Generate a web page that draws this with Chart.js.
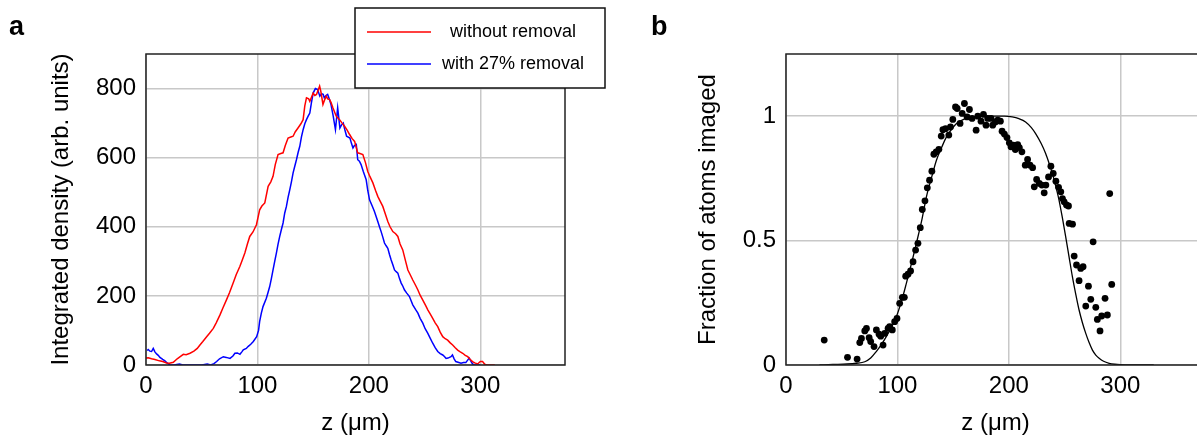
<!DOCTYPE html>
<html>
<head>
<meta charset="utf-8">
<script src="https://cdn.jsdelivr.net/npm/chart.js@4.4.1/dist/chart.umd.min.js"></script>
<style>
  html, body { margin: 0; padding: 0; background: #fff; overflow: hidden; }
  body { width: 1197px; height: 438px; position: relative; }
  canvas { position: absolute; top: 0; }
  #densityChart { left: 0; }
  #fractionChart { left: 640px; }
</style>
</head>
<body>
<canvas id="densityChart" width="640" height="438"></canvas>
<canvas id="fractionChart" width="640" height="438"></canvas>
<script>
// Panel a: integrated density profiles along z
const Z_RED = [0, 2, 5, 8, 12, 15, 18.5, 21, 24.5, 28, 31, 33.5, 36, 39.5, 43, 46, 48.4, 51, 54.4, 57,
  60.4, 63, 66.4, 69, 72.4, 75, 78.2, 81, 84.2, 86, 88.7, 91, 93.1, 96, 99.1, 102, 104, 106.6, 109.6, 112,
  114, 116, 118.5, 121, 123, 125, 127.5, 130, 132, 134, 136.4, 139, 141, 142.5, 144, 146, 147, 148.5, 150, 151.5,
  153, 155.8, 157, 158.8, 160, 161.8, 163, 164.8, 166, 167.8, 170.7, 173.7, 176, 178.2, 180.5, 182.7, 185, 187.2, 190, 192,
  194.6, 197, 199, 201, 203.6, 206, 208, 210, 212.5, 215, 217, 219, 221.5, 224, 226, 228, 230.4, 233, 235, 237,
  239.4, 242, 244, 246, 248.4, 251, 253, 255, 257.3, 259.5, 261.8, 264, 266.3, 268.5, 270.7, 273, 275.2, 277.5, 279.7, 282,
  284.2, 286.5, 288.7, 291, 293, 295, 297.6, 300, 302, 304, 306, 313];
const DENS_RED = [20, 21, 18, 16, 12, 10, 6, 5, 8, 18, 25, 31, 30, 34, 40, 48, 58, 68, 82, 92,
  106, 122, 145, 165, 190, 210, 237, 262, 285, 300, 324, 350, 372, 385, 406, 449, 460, 469, 517, 530,
  546, 580, 609, 612, 614, 635, 657, 660, 662, 675, 686, 698, 710, 750, 773, 770, 763, 775, 787, 780,
  783, 807, 790, 754, 765, 778, 770, 768, 760, 744, 720, 710, 700, 691, 680, 667, 655, 647, 614, 612,
  609, 585, 560, 545, 527, 505, 488, 475, 459, 435, 415, 400, 386, 380, 372, 350, 333, 300, 275, 262,
  246, 230, 217, 202, 188, 172, 159, 148, 135, 122, 111, 95, 82, 76, 72, 64, 58, 50, 43, 38,
  34, 28, 24, 16, 10, 6, 3, 10, 10, 2, 0, 0];

const Z_BLUE = [1, 2, 3.5, 5, 6.5, 8, 9.5, 11, 12.5, 15, 17, 19, 21.5, 25, 30, 33, 40, 50, 55, 58,
  61, 63.4, 66, 69.4, 72, 75.4, 78, 79.8, 82, 84.3, 86, 87.3, 90, 91.8, 94, 96.3, 99.3, 101, 102, 103.5,
  105, 108, 109.5, 111, 112.5, 114, 115.5, 117, 118.5, 120, 121.5, 123, 124.5, 126, 127.5, 129, 130.5, 132, 133.5, 135,
  136.5, 138, 139.5, 141, 142.5, 144, 145.5, 147, 148.5, 150, 152, 154, 156, 157.5, 159, 160, 161.5, 163, 164.5, 166,
  168, 170, 172, 174, 175.5, 177, 178.5, 180, 183, 184.5, 185.7, 187, 188.7, 190, 191.5, 193, 195, 197.6, 199, 200.6,
  203, 205, 206.5, 208, 209.5, 211, 212.5, 214, 215.5, 217, 218.5, 220, 221.5, 223, 224.5, 226, 227.5, 229, 230.5, 232,
  234, 236.4, 238, 239.4, 242, 244, 246, 248.4, 250.5, 252.8, 255, 257.3, 259.5, 261.8, 264, 266.3, 268, 269.3, 271, 273.7,
  275, 276.5, 278, 280, 282.7, 285, 287, 290, 291, 293, 294.6, 300];
const DENS_BLUE = [42, 45, 40, 39, 48, 38, 32, 28, 22, 16, 12, 6, 0, 0, 3, 0, 0, 0, 3, 0,
  4, 10, 18, 24, 22, 19, 26, 34, 35, 31, 38, 44, 48, 54, 60, 68, 82, 100, 126, 150,
  169, 193, 210, 227, 250, 275, 300, 324, 350, 372, 392, 411, 440, 459, 485, 507, 530, 556, 575, 594,
  615, 633, 660, 681, 698, 710, 720, 729, 760, 787, 800, 797, 778, 785, 783, 773, 780, 783, 770, 754,
  720, 681, 744, 686, 695, 700, 680, 662, 657, 640, 628, 635, 638, 594, 590, 580, 560, 536, 505, 478,
  460, 444, 430, 415, 400, 386, 370, 353, 345, 338, 320, 304, 290, 275, 270, 266, 250, 237, 228, 217,
  208, 198, 185, 174, 160, 150, 135, 121, 105, 92, 78, 63, 50, 39, 33, 29, 24, 19, 20, 24,
  29, 18, 10, 8, 5, 7, 7, 20, 14, 3, 0, 0];

// Panel b: fraction of atoms imaged, measured points and fitted profile
const Z_DOTS = [34.3, 55.2, 63.8, 66.2, 67.7, 70.7, 72.2, 74.6, 76, 79, 81.1, 83.5, 85, 87.1, 88.6, 91.6, 93, 95.4, 97.5, 99.6,
  102, 104.4, 106.2, 107.4, 109.5, 111.8, 114, 116.3, 118.4, 120.5, 122.3, 124.7, 126.8, 128.8, 130.9, 132.7, 134.8, 137.2, 139.3, 140.8,
  143.2, 146.1, 147.6, 149.7, 152.1, 153.6, 156.2, 158.1, 160.1, 162.5, 164.6, 167, 170.6, 172.1, 175, 177.2, 179.5, 181, 184, 185.5,
  187.9, 190, 192.4, 193.9, 196, 198.3, 200.4, 201.9, 204, 205.8, 207.9, 209.4, 211.7, 214.7, 216.8, 219, 221.3, 222.8, 224.9, 227.3,
  229.6, 231.7, 233.2, 235.6, 237.7, 239.8, 242.2, 244.6, 246.6, 248.1, 249.6, 251.7, 253.5, 254.1, 257.1, 258.6, 260.7, 263, 264.5, 266.6,
  269, 271.4, 273.5, 275.6, 278, 279.4, 281.8, 283.3, 286.3, 288.4, 290.5, 292.3];
const FRAC_DOTS = [0.100, 0.031, 0.024, 0.090, 0.107, 0.137, 0.147, 0.110, 0.094, 0.074, 0.141, 0.124, 0.116, 0.080, 0.127, 0.147, 0.154, 0.141, 0.174, 0.187,
  0.248, 0.272, 0.272, 0.357, 0.365, 0.378, 0.415, 0.462, 0.489, 0.552, 0.625, 0.660, 0.712, 0.743, 0.779, 0.847, 0.857, 0.867, 0.920, 0.946,
  0.950, 0.924, 0.957, 0.987, 1.037, 1.031, 0.971, 1.011, 1.051, 0.997, 1.027, 0.991, 0.944, 1.000, 0.980, 1.007, 0.964, 0.991, 0.991, 0.964,
  0.977, 0.984, 0.980, 0.940, 0.928, 0.914, 0.893, 0.877, 0.884, 0.866, 0.886, 0.874, 0.857, 0.803, 0.826, 0.803, 0.793, 0.716, 0.746, 0.730,
  0.723, 0.692, 0.723, 0.756, 0.799, 0.770, 0.739, 0.714, 0.696, 0.669, 0.656, 0.643, 0.639, 0.569, 0.566, 0.438, 0.402, 0.339, 0.388, 0.395,
  0.237, 0.317, 0.264, 0.495, 0.232, 0.183, 0.137, 0.197, 0.268, 0.201, 0.689, 0.324];

const Z_FIT = [30, 42, 55, 63, 70.7, 76, 81, 86, 90, 95, 99, 104, 108, 113, 117, 122, 126, 131, 135, 140,
  144, 149, 153, 158, 162, 168, 174, 181, 188.5, 196, 203, 209, 215, 220, 224, 229, 233, 236, 239, 242,
  245, 248, 251, 254, 257, 260, 263, 266, 269, 272, 275, 278, 281, 285, 290, 295, 300, 310, 330];
const FRAC_FIT = [0, 0.002, 0.004, 0.007, 0.013, 0.028, 0.054, 0.085, 0.114, 0.155, 0.194, 0.262, 0.328, 0.415, 0.489, 0.585, 0.676, 0.760, 0.823, 0.878,
  0.917, 0.950, 0.971, 0.984, 0.991, 0.997, 1.0, 1.0, 1.0, 1.0, 0.997, 0.990, 0.977, 0.955, 0.930, 0.890, 0.850, 0.812, 0.770, 0.720,
  0.663, 0.592, 0.515, 0.435, 0.355, 0.285, 0.221, 0.170, 0.127, 0.090, 0.060, 0.040, 0.027, 0.015, 0.007, 0.003, 0.001, 0, 0];

const X_TICKS = [0, 100, 200, 300];
const Y_TICKS_A = [0, 200, 400, 600, 800];
const Y_TICKS_B = [0, 0.5, 1];

const GRID = '#c8c8c8';
const INK = '#000';

Chart.defaults.font.family = '"Liberation Sans", Arial, Helvetica, sans-serif';
Chart.defaults.color = INK;

const toPoints = (xs, ys) => xs.map((x, i) => ({ x, y: ys[i] }));

// Box around the plot area, drawn on top of the data
const frameBox = {
  id: 'frameBox',
  afterDatasetsDraw(chart) {
    const { ctx, chartArea: a } = chart;
    ctx.save();
    ctx.strokeStyle = '#222';
    ctx.lineWidth = 1.5;
    ctx.strokeRect(a.left, a.top, a.right - a.left, a.bottom - a.top);
    ctx.restore();
  }
};

// Bold panel letter in the top-left corner
const panelTag = {
  id: 'panelTag',
  afterDraw(chart, args, opts) {
    if (!opts.text) return;
    const { ctx } = chart;
    ctx.save();
    ctx.font = 'bold 27px "Liberation Sans", Arial, sans-serif';
    ctx.fillStyle = INK;
    ctx.textBaseline = 'alphabetic';
    ctx.fillText(opts.text, opts.x, opts.y);
    ctx.restore();
  }
};

// Boxed legend that sits across the top edge of the plot
const boxLegend = {
  id: 'boxLegend',
  afterDraw(chart, args, opts) {
    if (!opts.display) return;
    const { ctx, chartArea: a } = chart;
    const left = a.left + opts.dx, top = opts.top;
    ctx.save();
    ctx.fillStyle = '#fff';
    ctx.fillRect(left, top, opts.width, opts.height);
    ctx.strokeStyle = '#111';
    ctx.lineWidth = 1.5;
    ctx.strokeRect(left, top, opts.width, opts.height);
    ctx.font = opts.fontSize + 'px "Liberation Sans", Arial, sans-serif';
    ctx.textAlign = 'center';
    ctx.textBaseline = 'middle';
    chart.data.datasets.forEach((ds, i) => {
      const y = top + opts.firstRow + i * opts.rowGap;
      ctx.strokeStyle = ds.borderColor;
      ctx.lineWidth = 1.4;
      ctx.beginPath();
      ctx.moveTo(left + 12, y);
      ctx.lineTo(left + 76, y);
      ctx.stroke();
      ctx.fillStyle = INK;
      ctx.fillText(ds.label, left + opts.textCenter, y);
    });
    ctx.restore();
  }
};

function xScale() {
  return {
    type: 'linear',
    min: 0,
    max: 376,
    afterBuildTicks: s => { s.ticks = X_TICKS.map(v => ({ value: v })); },
    afterFit: s => { s.height = 73; },
    grid: { color: GRID, lineWidth: 1.5, drawTicks: false },
    border: { display: false },
    ticks: { padding: 7, color: INK, font: { size: 24 }, maxRotation: 0, callback: v => String(v) },
    title: { display: true, text: 'z (μm)', color: INK, font: { size: 24 }, padding: { top: 0, bottom: 0 } }
  };
}

function yScale(max, ticks, label, titlePad) {
  return {
    type: 'linear',
    min: 0,
    max: max,
    afterBuildTicks: s => { s.ticks = ticks.map(v => ({ value: v })); },
    afterFit: s => { s.width = 146; },
    grid: { color: GRID, lineWidth: 1.5, drawTicks: false },
    border: { display: false },
    ticks: { padding: 10, color: INK, font: { size: 24 }, callback: v => String(v) },
    title: { display: true, text: label, color: INK, font: { size: 24 }, padding: { top: titlePad, bottom: 0 } }
  };
}

const baseOptions = {
  responsive: false,
  animation: false,
  devicePixelRatio: 1,
  layout: { padding: { top: 54, right: 75, bottom: 0, left: 0 } },
  events: []
};

new Chart(document.getElementById('densityChart'), {
  type: 'line',
  data: {
    datasets: [
      {
        label: 'without removal',
        data: toPoints(Z_RED, DENS_RED),
        borderColor: '#ff0000',
        borderWidth: 1.5,
        pointRadius: 0,
        tension: 0
      },
      {
        label: 'with 27% removal',
        data: toPoints(Z_BLUE, DENS_BLUE),
        borderColor: '#0000ff',
        borderWidth: 1.5,
        pointRadius: 0,
        tension: 0
      }
    ]
  },
  options: {
    ...baseOptions,
    scales: {
      x: xScale(),
      y: yScale(900, Y_TICKS_A, 'Integrated density (arb. units)', 47)
    },
    plugins: {
      legend: { display: false },
      tooltip: { enabled: false },
      panelTag: { text: 'a', x: 9, y: 35 },
      boxLegend: { display: true, dx: 209, top: 8, width: 250, height: 80, firstRow: 24, rowGap: 32, textCenter: 158, fontSize: 18 }
    }
  },
  plugins: [frameBox, panelTag, boxLegend]
});

new Chart(document.getElementById('fractionChart'), {
  type: 'scatter',
  data: {
    datasets: [
      {
        label: 'measured',
        data: toPoints(Z_DOTS, FRAC_DOTS),
        backgroundColor: '#000',
        borderWidth: 0,
        pointRadius: 3.4
      },
      {
        label: 'fit',
        type: 'line',
        data: toPoints(Z_FIT, FRAC_FIT),
        borderColor: '#000',
        borderWidth: 1.3,
        pointRadius: 0,
        cubicInterpolationMode: 'monotone'
      }
    ]
  },
  options: {
    ...baseOptions,
    scales: {
      x: xScale(),
      y: yScale(1.25, Y_TICKS_B, 'Fraction of atoms imaged', 54)
    },
    plugins: {
      legend: { display: false },
      tooltip: { enabled: false },
      panelTag: { text: 'b', x: 11, y: 35 }
    }
  },
  plugins: [frameBox, panelTag]
});
</script>
</body>
</html>
